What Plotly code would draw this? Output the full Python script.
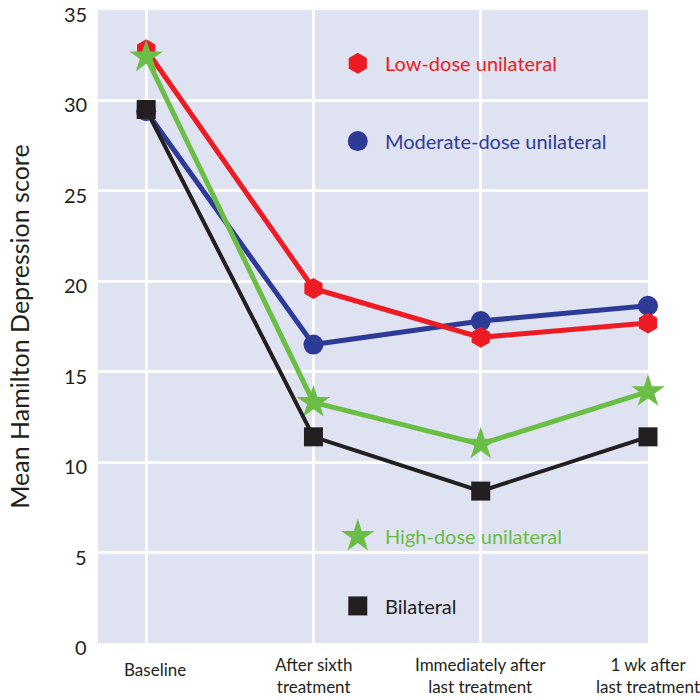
import plotly.graph_objects as go

# Time points and mean Hamilton Depression scores per treatment group
timepoints = ["Baseline", "After sixth<br>treatment", "Immediately after<br>last treatment", "1 wk after<br>last treatment"]
low_dose = [32.8, 19.6, 16.9, 17.7]
moderate_dose = [29.4, 16.5, 17.8, 18.65]
high_dose = [32.4, 13.3, 11.0, 13.9]
bilateral = [29.5, 11.4, 8.4, 11.4]

y_ticks = [0, 5, 10, 15, 20, 25, 30, 35]

RED = "#ED1C24"
BLUE = "#2E3B96"
GREEN = "#6ABD45"
BLACK = "#231F20"
BG = "#DFE2F0"
FONT = "Lato"

xs = list(range(len(timepoints)))

fig = go.Figure()

series = [
    ("Moderate-dose unilateral", moderate_dose, BLUE, "circle", 20, 5),
    ("Low-dose unilateral", low_dose, RED, "hexagon", 21, 5),
    ("High-dose unilateral", high_dose, GREEN, "star", 25, 5),
    ("Bilateral", bilateral, BLACK, "square", 19, 4),
]

for name, vals, color, symbol, size, width in series:
    fig.add_trace(go.Scatter(
        x=xs, y=vals, name=name, mode="lines+markers",
        line=dict(color=color, width=width),
        marker=dict(symbol=symbol, size=size, color=color, line=dict(width=0)),
        cliponaxis=False, showlegend=False,
    ))

# In-plot key: marker swatch plus coloured label for each group
key = [
    ("Low-dose unilateral", RED, "hexagon", 21, 32.05),
    ("Moderate-dose unilateral", BLUE, "circle", 20, 27.75),
    ("High-dose unilateral", GREEN, "star", 25, 5.9),
    ("Bilateral", BLACK, "square", 19, 2.05),
]
key_x = 1.265
for name, color, symbol, size, ky in key:
    fig.add_trace(go.Scatter(
        x=[key_x], y=[ky], mode="markers",
        marker=dict(symbol=symbol, size=size, color=color, line=dict(width=0)),
        showlegend=False, hoverinfo="skip",
    ))
    fig.add_annotation(
        x=key_x, y=ky, xref="x", yref="y", text=name, showarrow=False,
        xanchor="left", yanchor="middle", xshift=25,
        font=dict(family=FONT, size=20, color=color),
    )

# Category labels under the plot (drawn as text so the outer ones are never dropped)
for i, label in enumerate(timepoints):
    single = "<br>" not in label
    fig.add_annotation(
        x=i, y=0, xref="x", yref="paper", text=label, showarrow=False,
        xanchor="center", yanchor="top",
        xshift=9 if single else 0, yshift=-14 if single else -9,
        font=dict(family=FONT, size=17, color=BLACK),
    )

# Value labels on the left, sitting just below their grid lines
for v in y_ticks:
    fig.add_annotation(
        x=0, y=v, xref="paper", yref="y", text=str(v), showarrow=False,
        xanchor="right", yanchor="middle", xshift=-9, yshift=-4,
        font=dict(family=FONT, size=20, color=BLACK),
    )

fig.add_annotation(
    x=-0.145, y=0.5, xref="paper", yref="paper",
    text="Mean Hamilton Depression score", showarrow=False, textangle=-90,
    xanchor="center", yanchor="middle",
    font=dict(family=FONT, size=25, color=BLACK),
)

fig.update_layout(
    width=700, height=700,
    margin=dict(l=98, r=52, t=10, b=57, autoexpand=False),
    paper_bgcolor="white",
    plot_bgcolor=BG,
    font=dict(family=FONT, color=BLACK),
    xaxis=dict(
        range=[-0.288, 3.0], tickmode="array", tickvals=xs,
        showgrid=True, gridcolor="white", gridwidth=3, zeroline=False,
        showline=False, ticks="", showticklabels=False,
    ),
    yaxis=dict(
        range=[0, 35], tickmode="array", tickvals=y_ticks,
        showgrid=True, gridcolor="white", gridwidth=3, zeroline=False,
        showline=False, ticks="", showticklabels=False,
    ),
)

fig.write_html("out.html")
